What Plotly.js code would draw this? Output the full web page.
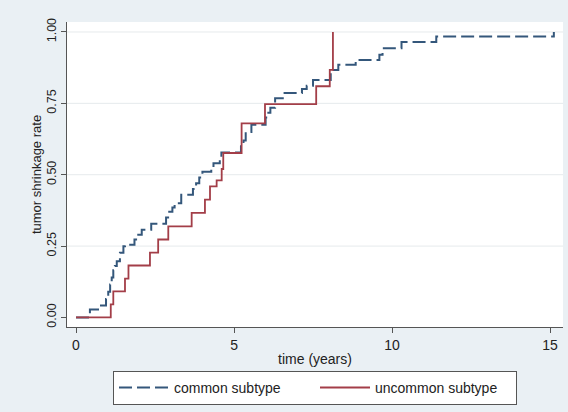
<!DOCTYPE html>
<html>
<head>
<meta charset="utf-8">
<script src="https://cdn.plot.ly/plotly-3.0.1.min.js"></script>
<style>html,body{margin:0;padding:0;background:#eaf0f4;}#chart{width:568px;height:412px;}</style>
</head>
<body>
<div id="chart"></div>
<script>
// common subtype (Kaplan-Meier failure steps)
var commonTime = [0, 0.44, 0.74, 0.95, 1.02, 1.08, 1.13, 1.18, 1.23, 1.29, 1.39, 1.5, 1.55, 1.85, 1.97, 2.08, 2.38, 2.85, 2.95, 3.05, 3.12, 3.33, 3.7, 3.8, 3.9, 4.0, 4.28, 4.35, 4.55, 4.6, 5.22, 5.3, 5.37, 5.55, 6.0, 6.05, 6.15, 6.3, 6.6, 7.15, 7.3, 7.5, 8.06, 8.3, 8.85, 9.6, 9.7, 10.3, 11.4, 15.12];
var commonRate = [0, 0.028, 0.042, 0.065, 0.09, 0.115, 0.14, 0.165, 0.18, 0.197, 0.227, 0.249, 0.255, 0.273, 0.29, 0.307, 0.328, 0.35, 0.37, 0.385, 0.40, 0.43, 0.45, 0.47, 0.49, 0.51, 0.525, 0.54, 0.56, 0.578, 0.60, 0.62, 0.65, 0.675, 0.70, 0.717, 0.735, 0.768, 0.786, 0.80, 0.812, 0.832, 0.867, 0.885, 0.902, 0.92, 0.943, 0.965, 0.984, 1.0];
// uncommon subtype
var uncommonTime = [0, 1.10, 1.18, 1.55, 1.66, 2.34, 2.6, 2.92, 3.66, 4.08, 4.24, 4.45, 4.61, 4.66, 5.24, 5.98, 7.6, 8.03, 8.13];
var uncommonRate = [0, 0.0455, 0.091, 0.136, 0.182, 0.227, 0.273, 0.319, 0.366, 0.413, 0.459, 0.48, 0.52, 0.576, 0.68, 0.747, 0.81, 0.867, 1.0];
var xTicks = [0, 5, 10, 15];
var yTicks = [0, 0.25, 0.5, 0.75, 1];
var yTickText = ['0.00', '0.25', '0.50', '0.75', '1.00'];
var seriesNames = ['common subtype', 'uncommon subtype'];

var traces = [
  {x: commonTime, y: commonRate, type: 'scatter', mode: 'lines', name: seriesNames[0],
   line: {shape: 'hv', color: '#34577b', width: 2, dash: '13px,5px'}},
  {x: uncommonTime, y: uncommonRate, type: 'scatter', mode: 'lines', name: seriesNames[1],
   line: {shape: 'hv', color: '#a33e48', width: 1.8}}
];

var layout = {
  width: 568, height: 412,
  paper_bgcolor: '#eaf0f4', plot_bgcolor: '#ffffff',
  margin: {l: 67, r: 5, t: 22, b: 85},
  font: {family: 'Liberation Sans, Arial, sans-serif', color: '#222222', size: 14},
  showlegend: true,
  legend: {orientation: 'h', x: 0.5, xanchor: 'center', y: -0.144, yanchor: 'top',
           bgcolor: '#ffffff', bordercolor: '#555555', borderwidth: 1,
           font: {size: 14}, entrywidth: 136, itemwidth: 50, traceorder: 'normal'},
  xaxis: {range: [-0.285, 15.41], tickvals: xTicks, ticktext: xTicks.map(String),
          ticks: 'outside', ticklen: 5, tickcolor: '#555555', showgrid: false, zeroline: false,
          showline: true, linecolor: '#555555', linewidth: 1,
          tickfont: {size: 14},
          title: {text: 'time (years)', font: {size: 14}, standoff: 2}},
  yaxis: {range: [-0.0335, 1.035], tickvals: yTicks, ticktext: yTickText, tickangle: -90,
          ticks: 'outside', ticklen: 5, tickcolor: '#555555', zeroline: false,
          showgrid: false, showline: true, linecolor: '#555555', linewidth: 1,
          tickfont: {size: 12.5},
          title: {text: 'tumor shrinkage rate', font: {size: 13}, standoff: 0}},
  shapes: yTicks.filter(function(v){return v > 0;}).map(function(v){
    return {type: 'line', xref: 'paper', x0: 0, x1: 1, yref: 'y', y0: v, y1: v,
            line: {color: '#e6eaec', width: 1}, layer: 'below'};
  })
};

Plotly.newPlot('chart', traces, layout, {displayModeBar: false, staticPlot: true});
</script>
</body>
</html>
